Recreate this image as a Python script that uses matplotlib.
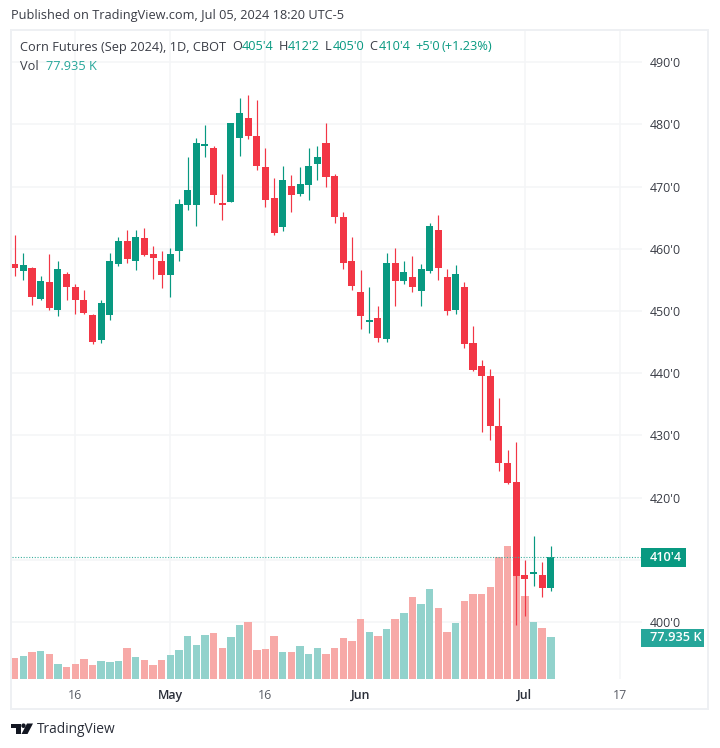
import matplotlib
matplotlib.use("Agg")
import matplotlib.pyplot as plt
from matplotlib.patches import Rectangle, Polygon, Circle

plt.rcParams['font.family'] = ['Open Sans', 'DejaVu Sans']

opens = [457.6,456.5,457.0,452.0,454.6,450.2,455.9,453.9,451.8,449.3,445.3,449.4,457.5,461.2,458.0,461.7,459.1,458.1,455.8,459.6,467.1,467.1,476.6,476.2,467.4,467.6,477.9,481.0,478.1,473.2,468.2,463.5,470.1,468.8,470.3,473.6,477.0,471.7,465.1,458.1,453.1,448.3,448.9,445.5,457.8,454.8,455.4,453.3,456.5,463.0,455.4,450.2,453.9,444.8,441.1,439.6,431.5,425.5,422.5,407.5,407.8,407.6,405.5]
highs = [462.2,459.4,457.1,455.7,459.1,458.1,456.3,454.4,453.4,449.5,451.8,459.4,461.9,463.0,463.0,463.3,460.4,459.6,460.2,468.0,474.7,477.9,479.9,476.5,472.1,480.2,484.2,484.7,484.0,476.2,471.4,473.4,471.9,473.1,476.2,476.5,480.2,472.1,465.9,461.9,456.6,453.8,450.8,459.4,460.2,458.1,458.9,457.6,464.1,465.4,456.8,457.4,454.7,447.6,442.2,440.7,436.0,427.6,429.0,410.0,413.8,409.7,412.25]
lows = [455.7,455.0,450.9,451.8,450.1,449.2,451.8,449.6,449.6,444.7,444.8,448.5,457.2,457.8,456.6,458.9,455.2,453.7,452.2,458.1,466.2,463.6,474.7,467.4,464.7,467.6,475.0,477.7,472.7,466.7,462.2,462.8,465.9,468.5,467.8,471.1,470.0,464.1,456.8,453.4,447.1,446.4,445.1,445.1,450.8,454.4,453.1,450.8,456.2,455.0,449.3,449.6,444.1,440.4,430.5,429.3,424.3,422.2,399.5,400.9,405.8,404.0,405.0]
closes = [457.0,457.4,452.3,454.9,450.5,456.8,453.8,451.7,449.7,445.0,451.3,458.1,461.2,458.3,461.9,459.0,458.5,455.8,459.1,467.2,469.5,477.0,476.8,468.7,467.1,480.2,481.9,478.1,473.4,467.9,462.6,471.1,468.6,470.4,473.4,474.7,471.6,465.1,457.8,454.0,449.2,448.4,445.7,457.8,454.8,456.3,453.8,456.8,463.6,456.9,450.0,455.9,444.7,440.5,439.5,431.6,425.5,422.3,407.4,406.9,407.9,405.4,410.5]
volumes = [39,43,50,52,46,28,22,28,37,25,33,31,33,58,40,35,25,35,45,54,80,64,82,85,58,78,101,106,54,55,80,50,51,62,46,58,46,58,76,70,112,88,80,94,112,124,153,141,169,133,87,105,145,159,159,173,228,250,305,156,106,95,77.935]

grid_prices = [400,410,420,430,440,450,460,470,480,490]
label_prices = [400,420,430,440,450,460,470,480,490]
price_labels = ["400'0","420'0","430'0","440'0","450'0","460'0","470'0","480'0","490'0"]
date_ticks = [7,18,29,40,59,70]
date_labels = ["16","May","16","Jun","Jul","17"]
major_dates = ["May","Jun","Jul"]

RED, GREEN = "#F23645", "#089981"
VRED, VGREEN = "#F7A9A7", "#92D2CC"
GRID = "#F4F5F7"
TXT = "#3A3D46"
W, H = 720, 748
XLIM = (-0.37, 72.51)
YLIM = (390.89, 495.03)

def fx(x): return x / W
def fy(y): return 1 - y / H
def ftext(x, y, s, **kw):
    kw.setdefault('fontsize', 9.15)
    kw.setdefault('color', TXT)
    kw.setdefault('va', 'center')
    return fig.text(fx(x), fy(y), s, **kw)

fig = plt.figure(figsize=(7.2, 7.48), dpi=100, facecolor="white")
fig.add_artist(Rectangle((fx(11), fy(709)), 697/W, 679/H, transform=fig.transFigure,
                         fc="none", ec="#EEF0F3", lw=1.4))

L, R, T, B = 11.5, 641.7, 31, 678.7
rect = [fx(L), fy(B), (R-L)/W, (B-T)/H]

# layer 1: grid, layer 2: volume, layer 3: candles and scales
grid_ax = fig.add_axes(rect)
grid_ax.set_xlim(*XLIM)
grid_ax.set_ylim(*YLIM)
grid_ax.set_xticks(date_ticks)
grid_ax.set_yticks(grid_prices)
grid_ax.tick_params(length=0, labelbottom=False, labelleft=False)
grid_ax.grid(True, color=GRID, lw=1.1)

vol_ax = fig.add_axes(rect)
vol_ax.patch.set_alpha(0)
x = list(range(len(opens)))
vol_ax.bar(x, volumes, width=0.86,
           color=[VGREEN if c >= o else VRED for o, c in zip(opens, closes)])
vol_ax.set_ylim(0, 1216)
vol_ax.set_xlim(*XLIM)
vol_ax.set_xticks([])
vol_ax.set_yticks([])

ax = fig.add_axes(rect)
ax.patch.set_alpha(0)
colors = [GREEN if c >= o else RED for o, c in zip(opens, closes)]
ax.vlines(x, lows, highs, colors=colors, lw=0.85, zorder=3)
ax.bar(x, [max(abs(c-o), 0.2) for o, c in zip(opens, closes)],
       bottom=[min(o, c) for o, c in zip(opens, closes)],
       width=0.82, color=colors, zorder=4, lw=0)
ax.set_xlim(*XLIM)
ax.set_ylim(*YLIM)
ax.yaxis.tick_right()
ax.set_yticks(label_prices)
ax.set_yticklabels(price_labels, fontsize=8.9, color=TXT)
ax.set_xticks(date_ticks)
ax.set_xticklabels(date_labels, fontsize=8.9, color="#5A5D66")
for lab in ax.get_xticklabels():
    if lab.get_text() in major_dates:
        lab.set_color("#2A2E39")
        lab.set_fontweight("semibold")
ax.tick_params(axis='y', length=0, pad=5.8)
ax.tick_params(axis='x', length=0, pad=7.5)
ax.axhline(closes[-1], color="#3DAF9F", lw=0.8, ls=(0, (1, 1.5)), zorder=5)
for a in (grid_ax, vol_ax, ax):
    for s in a.spines.values():
        s.set_visible(False)

# price and volume tags on the scale
fig.add_artist(Rectangle((fx(641), fy(566.7)), 45/W, 18.4/H, transform=fig.transFigure,
                         fc=GREEN, ec="none", zorder=8))
ftext(650, 557.8, "410'4", color="white", fontweight="semibold", zorder=9, fontsize=9.2)
fig.add_artist(Rectangle((fx(641), fy(646.7)), 63/W, 18/H, transform=fig.transFigure,
                         fc="#26A69A", ec="none", zorder=8))
ftext(650, 637.8, "77.935 K", color="white", fontweight="semibold", zorder=9, fontsize=9.2)

# header
ftext(11, 16, "Published on TradingView.com, Jul 05, 2024 18:20 UTC-5")
for px_, s, c in [(20, "Corn Futures (Sep 2024), 1D, CBOT", TXT), (232, "O", TXT), (242, "405'4", GREEN),
                  (279, "H", TXT), (288, "412'2", GREEN), (325, "L", TXT), (333, "405'0", GREEN),
                  (369, "C", TXT), (379, "410'4", GREEN), (415, "+5'0", GREEN), (442, "(+1.23%)", GREEN)]:
    ftext(px_, 47, s, color=c)
ftext(20, 66, "Vol", color=TXT)
ftext(46, 66, "77.935 K", color="#26A69A")

# footer logo
LOGO = "#131722"
def poly(pts):
    fig.add_artist(Polygon([(fx(a), fy(b)) for a, b in pts], closed=True, transform=fig.transFigure,
                           fc=LOGO, ec="none"))
poly([(11, 723.5), (20.5, 723.5), (20.5, 734), (16, 734), (16, 728), (11, 728)])
fig.add_artist(Circle((fx(23.5), fy(725.7)), 2.2/W, transform=fig.transFigure, fc=LOGO, ec="none"))
poly([(27, 723.5), (33, 723.5), (27.5, 734), (21.5, 734)])
ftext(37, 729.5, "TradingView", fontsize=9.9, color="#2A2E39")

fig.savefig("out.png", dpi=100)
